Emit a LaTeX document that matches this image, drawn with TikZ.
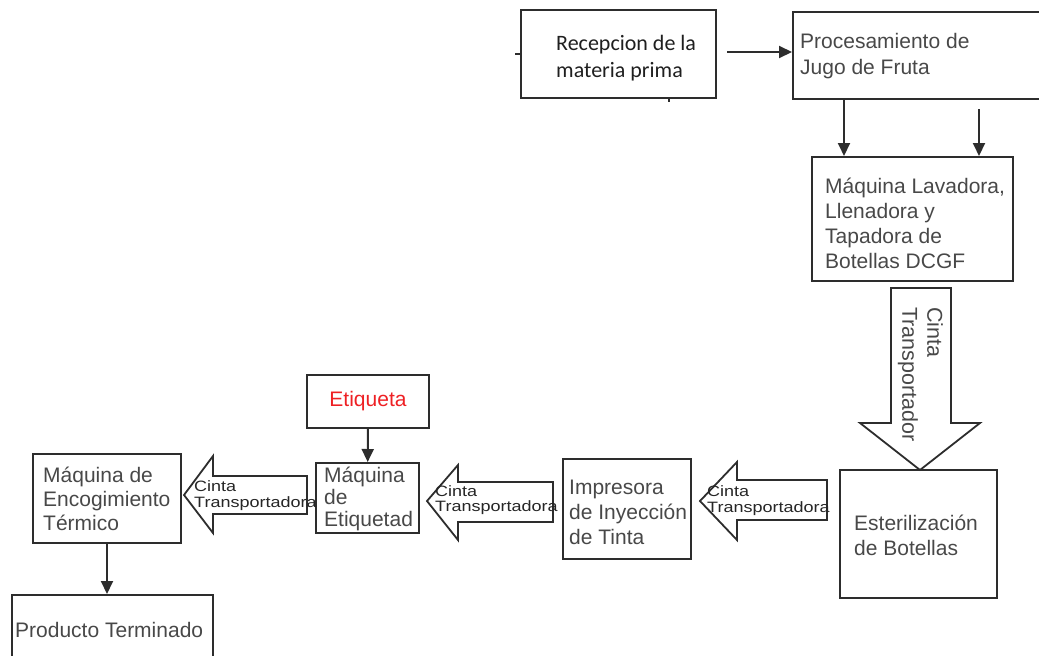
\documentclass[tikz,border=0pt]{standalone}
\usepackage{fontspec}
\usepackage{graphicx}
\setmainfont{Liberation Sans}
\newfontfamily\calfont{Carlito}
\usetikzlibrary{arrows.meta}
\definecolor{linec}{RGB}{45,45,45}
\definecolor{txtc}{RGB}{72,72,72}
\definecolor{redc}{RGB}{238,32,36}
\newcommand{\beltline}[1]{\scalebox{1.2}[1]{#1}}
\begin{document}
\begin{tikzpicture}[x=1pt,y=-1pt,
  box/.style={draw=linec, line width=2pt, rectangle, inner sep=0pt},
  txt/.style={text=txtc, inner sep=0pt, align=left, anchor=west},
  conn/.style={draw=linec, line width=2pt, -{Triangle[length=13pt,width=12pt]}},
  belt/.style={draw=linec, line width=1.8pt, fill=white, line join=miter},
  belttxt/.style={text=black!85, font=\fontsize{15}{15.5}\selectfont, inner sep=0pt, align=left, anchor=west}
]
\useasboundingbox (0,0) rectangle (1039,656);

% boxes
\node[box, minimum width=195pt, minimum height=88pt] (b1) at (618.5,54) {};
\node[box, minimum width=257pt, minimum height=87pt] (b2) at (921.5,55.5) {};
\node[box, minimum width=201pt, minimum height=124pt] (b3) at (912.5,219) {};
\node[box, minimum width=157pt, minimum height=128pt] (b4) at (918.5,534) {};
\node[box, minimum width=128pt, minimum height=100pt] (b5) at (627,509) {};
\node[box, minimum width=103pt, minimum height=70pt] (b6) at (367.5,498) {};
\node[box, minimum width=122pt, minimum height=53pt] (b7) at (368,401.5) {};
\node[box, minimum width=148pt, minimum height=89pt] (b8) at (107,498.5) {};
\node[box, minimum width=201pt, minimum height=75pt] (b9) at (112.5,632.5) {};

% texts
\node[txt, text=black!88, font=\calfont\fontsize{22}{27}\selectfont] (t1) at ([xshift=36pt,yshift=-4.5pt]b1.west) {Recepcion de la\\materia prima};
\node[txt, font=\fontsize{21}{26}\selectfont] (t2) at (800,56) {Procesamiento de\\Jugo de Fruta};
\node[txt, font=\fontsize{21}{25}\selectfont] (t3) at ([xshift=14pt,yshift=-4pt]b3.west) {Máquina Lavadora,\\Llenadora y\\Tapadora de\\Botellas DCGF};
\node[txt, font=\fontsize{21}{25}\selectfont] (t4) at ([xshift=15pt,yshift=-1.5pt]b4.west) {Esterilización\\de Botellas};
\node[txt, font=\fontsize{21}{25}\selectfont] (t5) at ([xshift=7pt,yshift=-3pt]b5.west) {Impresora\\de Inyección\\de Tinta};
\node[txt, font=\fontsize{21}{22}\selectfont] (t6) at ([xshift=9pt,yshift=-1pt]b6.west) {Máquina\\de\\Etiquetad};
\node[text=redc, inner sep=0pt, font=\fontsize{21}{25}\selectfont] (t7) at (b7) {Etiqueta};
\node[txt, font=\fontsize{21}{24}\selectfont] (t8) at ([xshift=11pt,yshift=-0.5pt]b8.west) {Máquina de\\Encogimiento\\Térmico};
\node[txt, font=\fontsize{21}{25}\selectfont] (t9) at (15,630) {Producto Terminado};

% small ticks
\draw[linec, line width=1.5pt] (b1.west) -- ++(-5,0);
\coordinate (tk) at (669,98);
\draw[linec, line width=1.5pt] (tk) -- ++(0,4);

% thin connectors
\coordinate (c1) at (727,52);
\draw[conn] (c1) -- (c1 -| b2.west);
\coordinate (p1) at ([xshift=33pt]b3.north west);
\draw[conn] (p1 |- b2.south) -- (p1);
\coordinate (p2) at ([xshift=168pt]b3.north west);
\coordinate (p2s) at (p2 |- b2.south);
\draw[conn] ([yshift=-9pt]p2s) -- (p2);
\draw[conn] (b7) -- (b6);
\draw[conn] (b8.south) -- (b8.south |- b9.north);

% conveyor block arrows
\draw[belt] (891,288) -- (951,288) -- (951,423) -- (980,423) -- (920,470) -- (860,423) -- (891,423) -- cycle;
\node[rotate=-90, text=txtc, inner sep=0pt, align=left, font=\fontsize{21.5}{25}\selectfont] (ct) at (920.5,374.5) {Cinta\\Transportador};

\draw[belt] (827,480) -- (737,480) -- (737,462) -- (700,501) -- (737,540) -- (737,520) -- (827,520) -- cycle;
\node[belttxt] (ca1) at (707,500.5) {\beltline{Cinta}\\\beltline{Transportadora}};

\draw[belt] (553,482) -- (458,482) -- (458,465) -- (427,501) -- (458,540) -- (458,522) -- (553,522) -- cycle;
\node[belttxt] (ca2) at (435,500) {\beltline{Cinta}\\\beltline{Transportadora}};

\draw[belt] (307,476) -- (213,476) -- (213,456) -- (184,495) -- (213,533) -- (213,514) -- (307,514) -- cycle;
\node[belttxt] (ca3) at (194,495.5) {\beltline{Cinta}\\\beltline{Transportadora}};
\end{tikzpicture}
\end{document}
